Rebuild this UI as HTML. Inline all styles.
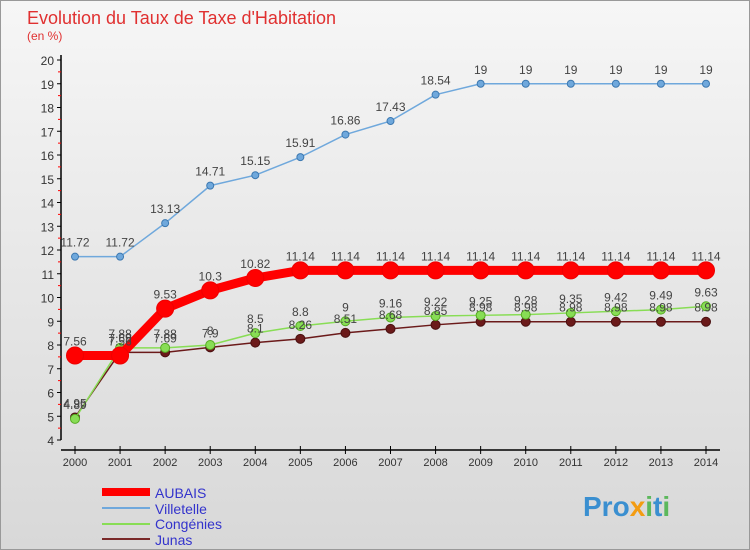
<!DOCTYPE html>
<html><head><meta charset="utf-8"><style>
body{margin:0;}
svg{display:block;font-family:"Liberation Sans",sans-serif;}
</style></head><body>
<svg id="c" width="750" height="550" viewBox="0 0 750 550">
<defs><linearGradient id="bg" x1="0" y1="0" x2="0" y2="1"><stop offset="0" stop-color="#f6f6f6"/><stop offset="1" stop-color="#d8d8d8"/></linearGradient></defs>
<rect x="0.5" y="0.5" width="749" height="549" fill="url(#bg)" stroke="#999"/>
<text x="27" y="24" font-size="18" fill="#e03030">Evolution du Taux de Taxe d'Habitation</text>
<text x="27" y="40" font-size="12" fill="#e03030">(en %)</text>
<g id="axes"></g><g id="series"></g><g id="labels"></g>
<g>
<line x1="102" y1="492" x2="150" y2="492" stroke="#f00" stroke-width="8"/>
<text x="155" y="498" font-size="14" fill="#3333cc">AUBAIS</text>
<line x1="102" y1="508" x2="150" y2="508" stroke="#6fa8dc" stroke-width="2"/>
<text x="155" y="514" font-size="14" fill="#3333cc">Villetelle</text>
<line x1="102" y1="524" x2="150" y2="524" stroke="#88dd55" stroke-width="2"/>
<text x="155" y="529" font-size="14" fill="#3333cc">Congénies</text>
<line x1="102" y1="539" x2="150" y2="539" stroke="#7a2a2a" stroke-width="2"/>
<text x="155" y="545" font-size="14" fill="#3333cc">Junas</text>
</g>
<text x="583" y="516" font-size="28" font-weight="bold" fill="#3a8fd0">Pro<tspan fill="#f39c12">x</tspan><tspan fill="#5cb85c">i</tspan>t<tspan fill="#5cb85c">i</tspan></text>
</svg>
<script>
const years=[2000,2001,2002,2003,2004,2005,2006,2007,2008,2009,2010,2011,2012,2013,2014];
const aubais=[7.56,7.56,9.53,10.3,10.82,11.14,11.14,11.14,11.14,11.14,11.14,11.14,11.14,11.14,11.14];
const villetelle=[11.72,11.72,13.13,14.71,15.15,15.91,16.86,17.43,18.54,19,19,19,19,19,19];
const congenies=[4.89,7.88,7.88,8,8.5,8.8,9,9.16,9.22,9.25,9.28,9.35,9.42,9.49,9.63];
const junas=[4.95,7.69,7.69,7.9,8.1,8.26,8.51,8.68,8.85,8.98,8.98,8.98,8.98,8.98,8.98];
const yTicks=[4,5,6,7,8,9,10,11,12,13,14,15,16,17,18,19,20];
const NS="http://www.w3.org/2000/svg";
const X=i=>75+i*(706-75)/(years.length-1);
const Y=v=>440-(v-4)*23.75;
function mk(t,a,p){const e=document.createElementNS(NS,t);for(const k in a)e.setAttribute(k,a[k]);p.appendChild(e);return e;}
const ax=document.getElementById('axes');
const yl=mk('line',{x1:61,y1:55,x2:61,y2:440,stroke:'#000','stroke-width':1.5},ax);


const xl=mk('line',{x1:61,y1:450,x2:720,y2:450,stroke:'#000','stroke-width':1.5},ax);


yTicks.forEach(v=>{
 mk('line',{x1:57,y1:Y(v),x2:61,y2:Y(v),stroke:'#000'},ax);
 if(v<20)mk('line',{x1:58,y1:Y(v+0.5),x2:61,y2:Y(v+0.5),stroke:'#f00'},ax);
 const t=mk('text',{x:54,y:Y(v)+5,'font-size':12,'text-anchor':'end',fill:'#333'},ax);t.textContent=v;
 
 
});
years.forEach((y,i)=>{
 mk('line',{x1:X(i),y1:446,x2:X(i),y2:454,stroke:'#000'},ax);
 const t=mk('text',{x:X(i),y:466,'font-size':11,'text-anchor':'middle',fill:'#333'},ax);t.textContent=y;
 
 
});
const sg=document.getElementById('series'),lg=document.getElementById('labels');
function series(d,col,w,r,name,stroke){
 const pl=mk('polyline',{points:d.map((v,i)=>X(i)+','+Y(v)).join(' '),fill:'none',stroke:col,'stroke-width':w,'stroke-linejoin':'round'},sg);
 
 
 d.forEach((v,i)=>{
  const c=mk('circle',{cx:X(i),cy:Y(v),r:r,fill:col,stroke:stroke,'stroke-width':1},sg);
  
  
  const t=mk('text',{x:X(i),y:Y(v)-10,'font-size':12,'text-anchor':'middle',fill:'#444'},lg);t.textContent=v;
  
  
 });
}
series(junas,'#6b1a1a',1.5,4.5,'junas','#4a1010');
series(congenies,'#88dd55',1.5,4.5,'congenies','#55aa22');
series(villetelle,'#6fa8dc',1.5,3.5,'villetelle','#3c78b0');
series(aubais,'#ff0000',9,8.5,'aubais','#ee0000');
</script>
</body></html>
